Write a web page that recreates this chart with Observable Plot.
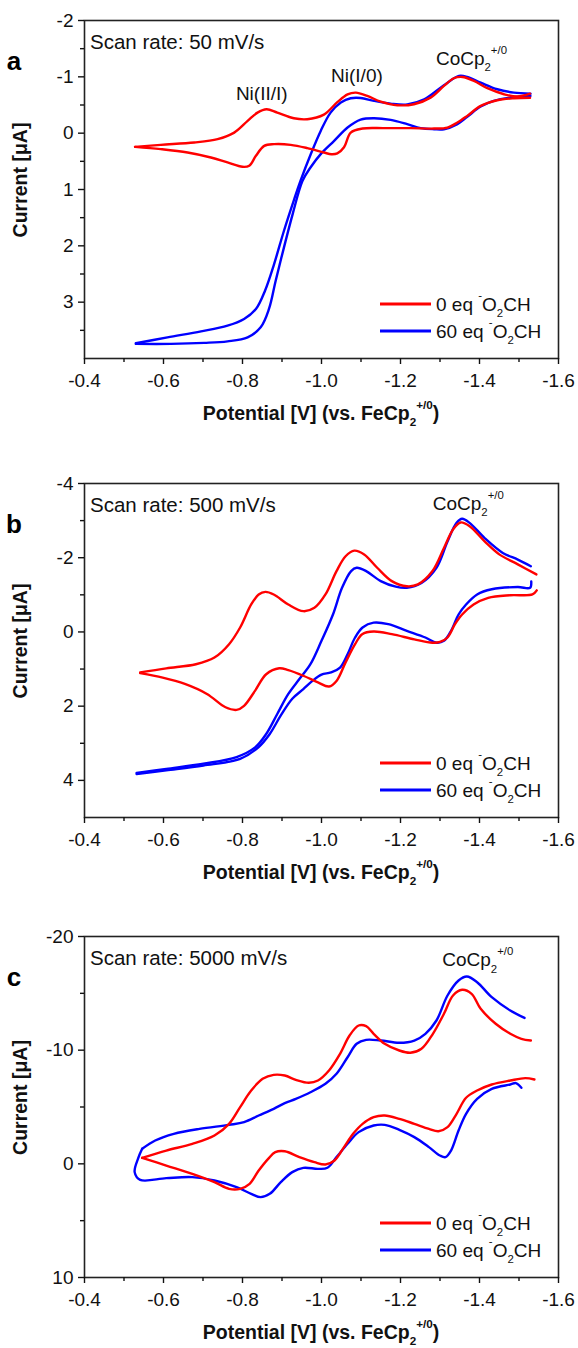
<!DOCTYPE html>
<html><head><meta charset="utf-8">
<script src="https://cdn.jsdelivr.net/npm/d3@7"></script>
<script src="https://cdn.jsdelivr.net/npm/@observablehq/plot@0.6"></script>
<style>
html,body{margin:0;padding:0;background:#fff;overflow:hidden;}
#wrap{position:relative;width:578px;height:1348px;overflow:hidden;background:#fff;}
#wrap svg{position:absolute;left:0;}
</style>
</head><body><div id="wrap"></div>
<script>
// ---------- data ----------
const xMajor = [-0.4, -0.6, -0.8, -1.0, -1.2, -1.4, -1.6];
const xMinor = [-0.5, -0.7, -0.9, -1.1, -1.3, -1.5];
const aYMajor = [-2, -1, 0, 1, 2, 3], aYMinor = [-1.5, -0.5, 0.5, 1.5, 2.5, 3.5];
const bYMajor = [-4, -2, 0, 2, 4], bYMinor = [-3, -1, 1, 3];
const cYMajor = [-20, -10, 0, 10], cYMinor = [-15, -5, 5];
const seriesLabels = ["0 eq ", "60 eq "];
const scanRates = ["Scan rate: 50 mV/s", "Scan rate: 500 mV/s", "Scan rate: 5000 mV/s"];
const panelLetters = ["a", "b", "c"];

// Panel a, 0 eq (red)
const aRedFwdV = [-0.528,-0.593,-0.678,-0.737,-0.779,-0.813,-0.838,-0.861,-0.888,-0.930,-0.964,-1.006,-1.040,-1.066,-1.087,-1.116,-1.150,-1.192,-1.234,-1.276,-1.310,-1.335,-1.357,-1.386,-1.420,-1.462,-1.496,-1.528];
const aRedFwdI = [0.243,0.207,0.166,0.106,-0.010,-0.218,-0.365,-0.425,-0.365,-0.265,-0.248,-0.330,-0.550,-0.690,-0.720,-0.661,-0.560,-0.496,-0.514,-0.631,-0.839,-0.975,-0.998,-0.927,-0.798,-0.691,-0.650,-0.700];
const aRedRevV = [-1.528,-1.487,-1.445,-1.403,-1.369,-1.344,-1.319,-1.285,-1.226,-1.158,-1.104,-1.074,-1.057,-1.040,-1.025,-1.006,-0.964,-0.922,-0.880,-0.855,-0.834,-0.817,-0.800,-0.762,-0.720,-0.661,-0.593,-0.528];
const aRedRevI = [-0.630,-0.620,-0.584,-0.484,-0.307,-0.189,-0.100,-0.082,-0.089,-0.089,-0.082,-0.010,0.250,0.360,0.375,0.343,0.265,0.207,0.195,0.225,0.402,0.579,0.597,0.520,0.432,0.343,0.283,0.243];
// Panel a, 60 eq (blue)
const aBlueFwdV = [-0.530,-0.610,-0.695,-0.762,-0.804,-0.834,-0.857,-0.880,-0.905,-0.931,-0.947,-0.973,-0.998,-1.023,-1.049,-1.074,-1.099,-1.133,-1.175,-1.217,-1.260,-1.310,-1.348,-1.369,-1.403,-1.445,-1.487,-1.529];
const aBlueFwdI = [3.730,3.624,3.518,3.417,3.298,3.121,2.796,2.323,1.732,1.170,0.844,0.370,-0.040,-0.365,-0.543,-0.620,-0.625,-0.573,-0.525,-0.510,-0.600,-0.850,-1.016,-0.998,-0.897,-0.780,-0.720,-0.702];
const aBlueRevV = [-1.529,-1.478,-1.436,-1.403,-1.369,-1.344,-1.310,-1.285,-1.251,-1.217,-1.175,-1.133,-1.099,-1.066,-1.032,-0.998,-0.973,-0.952,-0.927,-0.905,-0.884,-0.867,-0.846,-0.813,-0.762,-0.703,-0.619,-0.530];
const aBlueRevI = [-0.660,-0.631,-0.573,-0.472,-0.290,-0.160,-0.070,-0.070,-0.089,-0.160,-0.236,-0.266,-0.241,-0.100,0.137,0.372,0.600,0.846,1.436,2.028,2.619,3.121,3.447,3.624,3.695,3.723,3.741,3.741];

// Panel b, 0 eq (red)
const bRedFwdV = [-0.541,-0.607,-0.682,-0.729,-0.766,-0.794,-0.822,-0.841,-0.858,-0.879,-0.916,-0.954,-0.982,-1.010,-1.038,-1.061,-1.083,-1.108,-1.141,-1.178,-1.216,-1.244,-1.281,-1.310,-1.333,-1.352,-1.375,-1.413,-1.450,-1.497,-1.544];
const bRedFwdI = [1.09,0.98,0.87,0.69,0.33,-0.12,-0.74,-1.01,-1.08,-1.01,-0.74,-0.56,-0.65,-1.01,-1.64,-2.04,-2.19,-2.09,-1.73,-1.37,-1.23,-1.28,-1.64,-2.26,-2.76,-2.95,-2.85,-2.44,-2.09,-1.82,-1.55];
const bRedRevV = [-1.545,-1.534,-1.478,-1.422,-1.385,-1.356,-1.338,-1.319,-1.300,-1.281,-1.235,-1.178,-1.132,-1.103,-1.085,-1.061,-1.038,-1.019,-0.991,-0.954,-0.916,-0.893,-0.860,-0.832,-0.804,-0.785,-0.757,-0.710,-0.654,-0.598,-0.541];
const bRedRevI = [-1.12,-1.01,-0.99,-0.92,-0.74,-0.47,-0.21,0.15,0.27,0.29,0.20,0.06,-0.01,0.06,0.33,0.82,1.32,1.47,1.36,1.18,1.03,0.98,1.14,1.58,1.99,2.10,2.03,1.67,1.40,1.23,1.11];
// Panel b, 60 eq (blue)
const bBlueFwdV = [-0.532,-0.607,-0.701,-0.785,-0.832,-0.860,-0.888,-0.916,-0.944,-0.972,-1.000,-1.029,-1.052,-1.075,-1.089,-1.113,-1.150,-1.188,-1.216,-1.253,-1.291,-1.319,-1.342,-1.356,-1.375,-1.413,-1.459,-1.497,-1.530];
const bBlueFwdI = [3.80,3.69,3.55,3.37,3.11,2.75,2.21,1.67,1.27,0.87,0.24,-0.47,-1.19,-1.64,-1.73,-1.64,-1.37,-1.22,-1.19,-1.32,-1.73,-2.44,-2.94,-3.05,-2.94,-2.53,-2.13,-1.95,-1.77];
const bBlueRevV = [-1.531,-1.528,-1.497,-1.431,-1.394,-1.366,-1.347,-1.328,-1.310,-1.291,-1.263,-1.216,-1.169,-1.132,-1.104,-1.085,-1.066,-1.047,-1.024,-1.000,-0.977,-0.954,-0.926,-0.897,-0.869,-0.841,-0.794,-0.701,-0.607,-0.532];
const bBlueRevI = [-1.36,-1.19,-1.21,-1.15,-1.01,-0.74,-0.47,-0.03,0.24,0.29,0.15,-0.03,-0.21,-0.25,-0.12,0.15,0.60,0.96,1.09,1.15,1.32,1.54,1.80,2.25,2.75,3.10,3.42,3.60,3.73,3.83];

// Panel c, 0 eq (red)
const cRedFwdV = [-0.546,-0.607,-0.673,-0.729,-0.766,-0.794,-0.822,-0.851,-0.879,-0.907,-0.935,-0.968,-0.991,-1.019,-1.047,-1.071,-1.094,-1.113,-1.132,-1.160,-1.197,-1.225,-1.253,-1.282,-1.310,-1.333,-1.356,-1.380,-1.403,-1.441,-1.478,-1.506,-1.530];
const cRedFwdI = [-0.53,-1.17,-1.76,-2.49,-3.52,-4.99,-6.45,-7.48,-7.83,-7.77,-7.39,-7.13,-7.33,-8.21,-9.68,-11.29,-12.17,-12.11,-11.44,-10.56,-9.97,-9.77,-10.12,-11.44,-13.20,-14.81,-15.31,-14.96,-13.64,-12.32,-11.44,-11.00,-10.85];
const cRedRevV = [-1.539,-1.516,-1.478,-1.431,-1.394,-1.366,-1.342,-1.319,-1.296,-1.272,-1.235,-1.197,-1.160,-1.132,-1.104,-1.080,-1.057,-1.033,-1.010,-0.982,-0.944,-0.907,-0.883,-0.865,-0.841,-0.818,-0.794,-0.766,-0.729,-0.673,-0.607,-0.546];
const cRedRevI = [-7.42,-7.54,-7.33,-6.98,-6.45,-5.81,-4.40,-3.23,-2.87,-3.08,-3.52,-3.96,-4.25,-4.11,-3.52,-2.64,-1.47,-0.29,0.06,-0.15,-0.59,-1.11,-1.03,-0.44,0.59,1.76,2.20,2.20,1.61,0.88,0.15,-0.53];
// Panel c, 60 eq (blue)
const cBlueFwdV = [-0.546,-0.579,-0.626,-0.691,-0.766,-0.804,-0.841,-0.879,-0.907,-0.935,-0.972,-1.010,-1.038,-1.066,-1.089,-1.113,-1.150,-1.197,-1.235,-1.263,-1.291,-1.319,-1.347,-1.368,-1.394,-1.431,-1.478,-1.514];
const cBlueFwdI = [-1.32,-2.05,-2.64,-3.08,-3.43,-3.67,-4.25,-4.84,-5.34,-5.72,-6.30,-7.04,-7.92,-9.38,-10.56,-10.91,-10.85,-10.65,-10.85,-11.44,-12.61,-14.81,-16.13,-16.48,-15.98,-14.66,-13.49,-12.84];
const cBlueRevV = [-1.506,-1.492,-1.478,-1.431,-1.394,-1.366,-1.347,-1.328,-1.314,-1.300,-1.272,-1.235,-1.197,-1.160,-1.132,-1.094,-1.066,-1.038,-1.015,-0.991,-0.954,-0.926,-0.897,-0.869,-0.846,-0.822,-0.785,-0.729,-0.673,-0.607,-0.541,-0.527,-0.536,-0.546];
const cBlueRevI = [-6.69,-7.10,-6.98,-6.60,-5.72,-4.40,-2.93,-1.17,-0.59,-0.73,-1.47,-2.35,-2.99,-3.43,-3.37,-2.79,-1.76,-0.59,0.35,0.44,0.35,0.73,1.61,2.64,2.93,2.64,2.05,1.47,1.17,1.26,1.41,0.73,-0.50,-1.32];

// ---------- drawing ----------
const FONT = "Arial, 'Liberation Sans', Arimo, Helvetica, sans-serif";
const RED = "#ff0000", BLUE = "#0000ff", INK = "#111";
const W = 578, ML = 84, MR = 20;

function rows(fv, fi, rv, ri) {
  return [
    ...fv.map((v, k) => ({v, i: fi[k], b: "fwd"})),
    ...rv.map((v, k) => ({v, i: ri[k], b: "rev"}))
  ];
}

function rich(svg, x, y, parts, {size = 19, weight = "normal", anchor = "start", rotate = false} = {}) {
  const t = d3.select(svg).append("text")
    .attr("font-family", FONT).attr("font-size", size).attr("font-weight", weight)
    .attr("fill", INK).attr("text-anchor", anchor);
  if (rotate) t.attr("transform", `translate(${x},${y}) rotate(-90)`);
  else t.attr("x", x).attr("y", y);
  let shift = 0;
  for (const p of parts) {
    const target = p.sub ? size * 0.32 : p.sup ? -size * 0.58 : 0;
    t.append("tspan").attr("dy", target - shift)
      .attr("font-size", (p.sub || p.sup) ? size * 0.6 : size).text(p.t);
    shift = target;
  }
  return t;
}

const coLabel = [{t: "CoCp"}, {t: "2", sub: true}, {t: "+/0", sup: true}];
const panels = [
  {top: 0, mt: 20, fh: 338, mb: 80, yDomain: [4, -2], yMajor: aYMajor, yMinor: aYMinor,
   red: rows(aRedFwdV, aRedFwdI, aRedRevV, aRedRevI), blue: rows(aBlueFwdV, aBlueFwdI, aBlueRevV, aBlueRevI),
   notes: [{t: [{t: "Ni(II/I)"}], v: -0.850, i: -0.70, anchor: "middle"},
           {t: [{t: "Ni(I/0)"}], v: -1.091, i: -1.016, anchor: "middle"},
           {t: coLabel, v: -1.291, i: -1.31, anchor: "start"}]},
  {top: 440, mt: 43, fh: 334, mb: 80, yDomain: [5, -4], yMajor: bYMajor, yMinor: bYMinor,
   red: rows(bRedFwdV, bRedFwdI, bRedRevV, bRedRevI), blue: rows(bBlueFwdV, bBlueFwdI, bBlueRevV, bBlueRevI),
   notes: [{t: coLabel, v: -1.283, i: -3.445, anchor: "start"}]},
  {top: 900, mt: 36, fh: 341, mb: 72, yDomain: [10, -20], yMajor: cYMajor, yMinor: cYMinor,
   red: rows(cRedFwdV, cRedFwdI, cRedRevV, cRedRevI), blue: rows(cBlueFwdV, cBlueFwdI, cBlueRevV, cBlueRevI),
   notes: [{t: coLabel, v: -1.307, i: -17.89, anchor: "start"}]}
];

const wrap = document.getElementById("wrap");
panels.forEach((p, k) => {
  const height = p.mt + p.fh + p.mb;
  const plot = Plot.plot({
    width: W, height,
    marginLeft: ML, marginRight: MR, marginTop: p.mt, marginBottom: p.mb,
    style: {background: "transparent", overflow: "visible", fontFamily: FONT, color: INK},
    x: {domain: [-0.4, -1.6]},
    y: {domain: p.yDomain},
    marks: [
      Plot.line(p.blue, {x: "v", y: "i", z: "b", stroke: BLUE, strokeWidth: 2.4, curve: "catmull-rom"}),
      Plot.line(p.red, {x: "v", y: "i", z: "b", stroke: RED, strokeWidth: 2.4, curve: "catmull-rom"}),
      Plot.frame({stroke: "#222", strokeWidth: 1.6}),
      Plot.axisX({ticks: xMajor, tickSize: 6, tickPadding: 9, tickFormat: d => d.toFixed(1), fontSize: 19, label: null, strokeWidth: 1.4}),
      Plot.axisX({ticks: xMinor, tickSize: 4, tickFormat: () => "", label: null, strokeWidth: 1.4}),
      Plot.axisY({ticks: p.yMajor, tickSize: 6, tickPadding: 5, tickFormat: d => String(d), fontSize: 19, label: null, strokeWidth: 1.4}),
      Plot.axisY({ticks: p.yMinor, tickSize: 4, tickFormat: () => "", label: null, strokeWidth: 1.4})
    ]
  });
  plot.style.top = p.top + "px";
  wrap.appendChild(plot);

  const sx = plot.scale("x"), sy = plot.scale("y");
  const fb = p.mt + p.fh; // frame bottom
  const fcx = ML + (W - ML - MR) / 2;

  // panel letter
  d3.select(plot).append("text").attr("x", 14).attr("y", p.mt + 50)
    .attr("font-family", FONT).attr("font-size", 26).attr("font-weight", "bold").attr("fill", "#000")
    .text(panelLetters[k]);
  // scan rate
  rich(plot, ML + 6, p.mt + 29, [{t: scanRates[k]}], {size: 20.5});
  // annotations
  for (const n of p.notes) rich(plot, sx.apply(n.v), sy.apply(n.i) + 6.5, n.t, {size: 19, anchor: n.anchor});
  // legend
  [[RED, 54], [BLUE, 27]].forEach(([c, off], j) => {
    const y = fb - off;
    d3.select(plot).append("line").attr("x1", 380).attr("x2", 431).attr("y1", y).attr("y2", y)
      .attr("stroke", c).attr("stroke-width", 2.8);
    rich(plot, 436, y + 6.5, [{t: seriesLabels[j]}, {t: "-", sup: true}, {t: "O"}, {t: "2", sub: true}, {t: "CH"}], {size: 19});
  });
  // axis titles
  rich(plot, fcx, fb + 62, [{t: "Potential [V] (vs. FeCp"}, {t: "2", sub: true}, {t: "+/0", sup: true}, {t: ")"}], {size: 19.5, weight: "bold", anchor: "middle"});
  rich(plot, 27, p.mt + p.fh / 2 - 9, [{t: "Current [\u03bcA]"}], {size: 19.5, weight: "bold", anchor: "middle", rotate: true});
});
</script>
</body></html>
